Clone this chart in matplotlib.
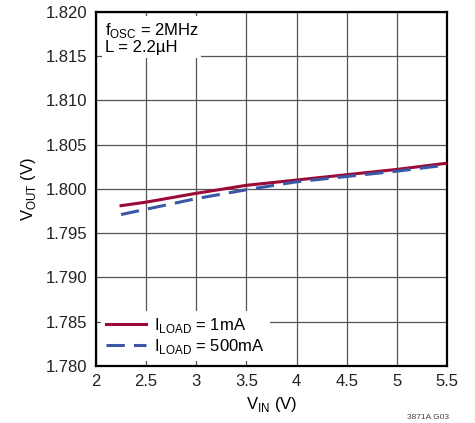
import matplotlib

matplotlib.use("Agg")
import matplotlib.pyplot as plt  # noqa: E402

plt.rcParams["font.family"] = ["Liberation Sans", "DejaVu Sans"]

# V_IN sample points and output voltage readings
vin = [2.25, 2.5, 3.0, 3.5, 4.0, 4.5, 5.0, 5.5]
vout_1ma = [1.7981, 1.7985, 1.7995, 1.8004, 1.8010, 1.8016, 1.8022, 1.8029]
vout_500ma = [1.7971, 1.7977, 1.7989, 1.7999, 1.8008, 1.8014, 1.8020, 1.8027]

x_ticks = [2, 2.5, 3, 3.5, 4, 4.5, 5, 5.5]
y_ticks = [1.780, 1.785, 1.790, 1.795, 1.800, 1.805, 1.810, 1.815, 1.820]

RED = "#9c0a37"
BLUE = "#3b56a6"

fig = plt.figure(figsize=(4.75, 4.23), dpi=100)
ax = fig.add_axes([0.202, 0.135, 0.739, 0.837])

ax.plot(vin, vout_1ma, color=RED, lw=2.2, label=r"I$_{\mathregular{LOAD}}$ = 1mA", zorder=3)
ax.plot(vin, vout_500ma, color=BLUE, lw=2.2, dashes=(6, 3),
        label=r"I$_{\mathregular{LOAD}}$ = 500mA", zorder=3)

ax.set_xlim(2, 5.5)
ax.set_ylim(1.780, 1.820)
ax.set_xticks(x_ticks)
ax.set_xticklabels([f"{v:g}" for v in x_ticks])
ax.set_yticks(y_ticks)
ax.set_yticklabels([f"{v:.3f}" for v in y_ticks])
ax.tick_params(length=0, labelsize=12, pad=6, colors="#222222")
ax.grid(True, color="#555555", lw=0.9)
for s in ax.spines.values():
    s.set_linewidth(1.6)
    s.set_color("black")

ax.set_xlabel(r"V$_{\mathregular{IN}}$ (V)", fontsize=12, labelpad=4)
ax.set_ylabel(r"V$_{\mathregular{OUT}}$ (V)", fontsize=12, labelpad=6)

ax.text(0.025, 0.975, "f$_{\\mathregular{OSC}}$ = 2MHz\nL = 2.2µH", transform=ax.transAxes,
        ha="left", va="top", fontsize=12, linespacing=1.05,
        bbox=dict(facecolor="white", edgecolor="none", pad=2), zorder=4)

leg = ax.legend(loc="lower left", fontsize=12, frameon=True, handlelength=2.4,
                borderaxespad=0.3, labelspacing=0.1, handletextpad=0.5, borderpad=0.3)
leg.get_frame().set_edgecolor("none")
leg.get_frame().set_facecolor("white")
leg.get_frame().set_alpha(1)

fig.text(0.945, 0.004, "3871A G03", ha="right", va="bottom", fontsize=6, color="#444444")

fig.savefig("out.png", dpi=100, facecolor="white")
